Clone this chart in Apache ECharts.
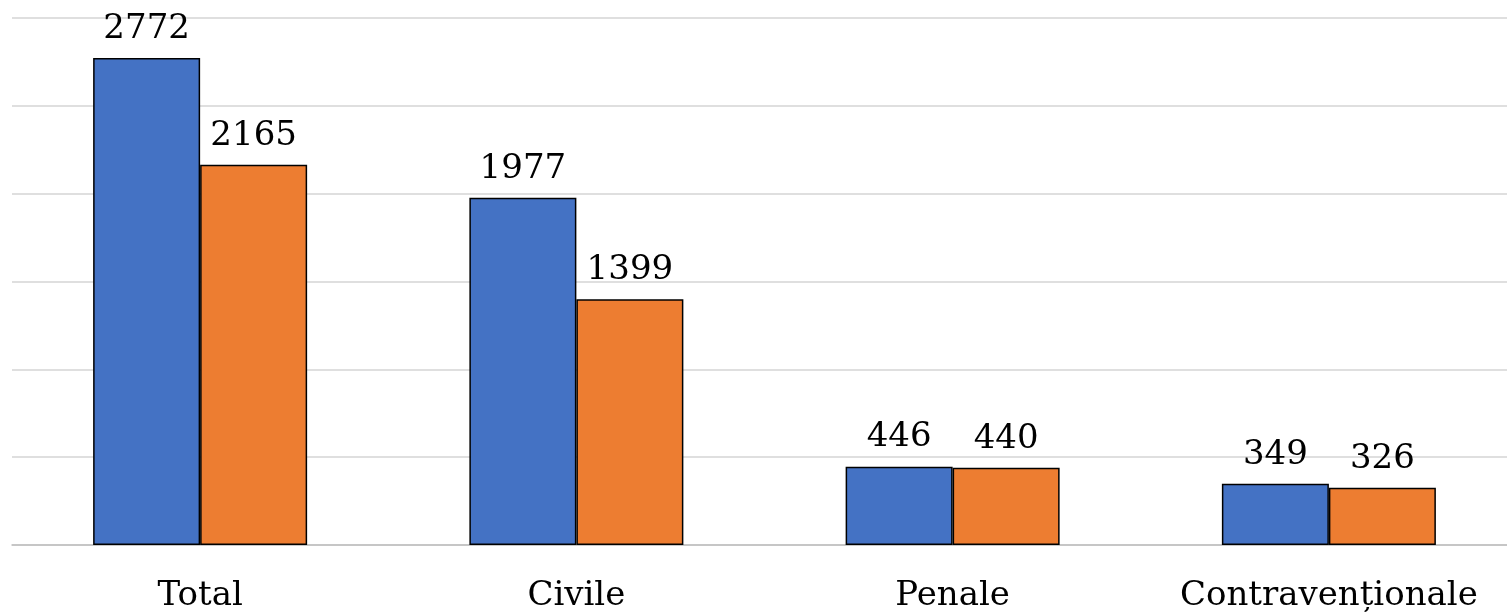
<!DOCTYPE html>
<html>
<head>
<meta charset="utf-8">
<script src="https://cdn.jsdelivr.net/npm/echarts@6/dist/echarts.min.js"></script>
<style>
  html, body { margin: 0; padding: 0; background: #fff; }
  #chart { width: 1507px; height: 616px; }
</style>
</head>
<body>
<div id="chart"></div>
<script>
// categorii si valori
const categories = ['Total', 'Civile', 'Penale', 'Contravenționale']
const seria1 = [2772, 1977, 446, 349]
const seria2 = [2165, 1399, 440, 326]

const font = 'DejaVu Serif'

const labelStyle = {
    show: true,
    position: 'top',
    distance: 12,
    color: '#000',
    fontFamily: font,
    fontSize: 34
}

let myChart = echarts.init(document.getElementById('chart'))
myChart.setOption({
    animation: false,
    grid: { left: 12, right: -10, top: 18, bottom: 71, outerBoundsMode: 'none', containLabel: false },
    xAxis: {
        type: 'category',
        data: categories,
        axisTick: { show: false },
        axisLine: { lineStyle: { color: '#bfbfbf', width: 1.5 } },
        axisLabel: { interval: 0, hideOverlap: false, color: '#000', fontFamily: font, fontSize: 34, margin: 34 }
    },
    yAxis: {
        type: 'value',
        min: 0,
        max: 3000,
        interval: 500,
        axisLabel: { show: false },
        axisLine: { show: false },
        axisTick: { show: false },
        splitLine: { lineStyle: { color: '#d4d4d4', width: 1.5 } }
    },
    series: [
        {
            type: 'bar',
            data: seria1,
            barWidth: 107,
            barGap: '0%',
            itemStyle: { color: '#4472c4', borderColor: '#000', borderWidth: 1.5 },
            label: labelStyle
        },
        {
            type: 'bar',
            data: seria2,
            barWidth: 107,
            itemStyle: { color: '#ed7d31', borderColor: '#000', borderWidth: 1.5 },
            label: labelStyle
        }
    ]
})
</script>
</body>
</html>
